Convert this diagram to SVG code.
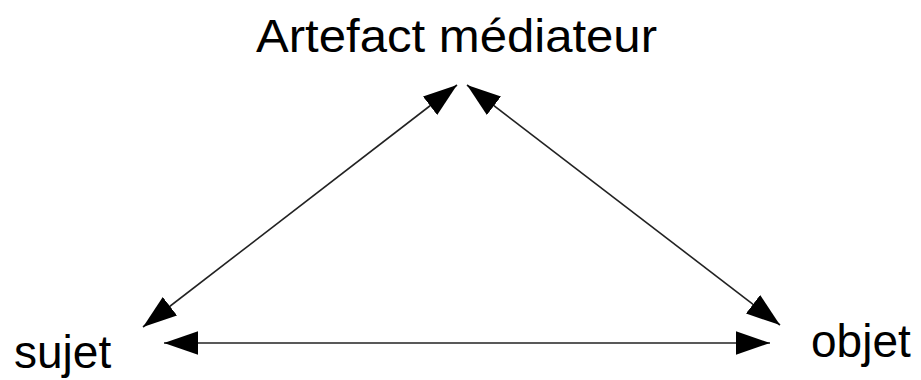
<svg xmlns="http://www.w3.org/2000/svg" width="921" height="380" viewBox="0 0 921 380">
<style>
.lbl{font-family:"Liberation Sans",Arial,sans-serif;font-size:46px;fill:#000}
.c{stroke:#222;stroke-width:1.6;fill:none;marker-start:url(#ah);marker-end:url(#ah)}
</style>
<defs>
<marker id="ah" markerUnits="userSpaceOnUse" markerWidth="34" markerHeight="24" viewBox="0 0 32 22" refX="32" refY="11" orient="auto-start-reverse">
<path d="M0,0 L32,11 L0,22 z" fill="#000"/>
</marker>
</defs>
<rect width="921" height="380" fill="#fff"/>
<g id="connectors">
<line class="c" x1="143" y1="327" x2="457" y2="85"/>
<line class="c" x1="467" y1="85" x2="780" y2="325"/>
<line class="c" x1="164" y1="343" x2="770" y2="343"/>
</g>
<g id="artefact"><text class="lbl" x="256" y="52" textLength="401" lengthAdjust="spacingAndGlyphs">Artefact médiateur</text></g>
<g id="sujet"><text class="lbl" x="14" y="368">sujet</text></g>
<g id="objet"><text class="lbl" x="811" y="357">objet</text></g>
</svg>
